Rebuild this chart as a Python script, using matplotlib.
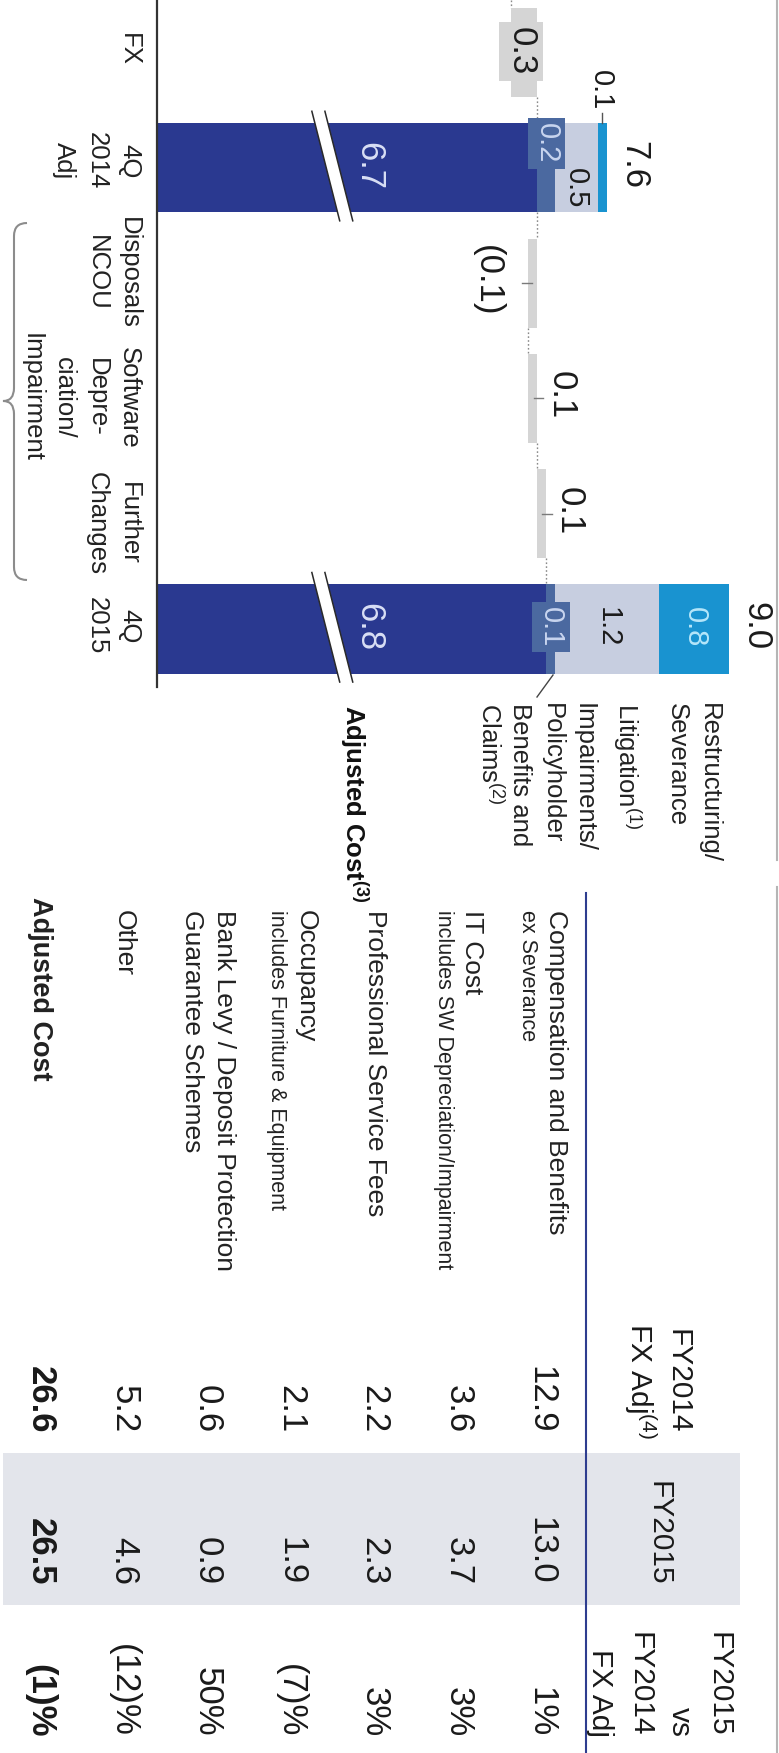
import matplotlib
matplotlib.use("Agg")
import matplotlib.pyplot as plt
import numpy as np
from matplotlib.transforms import offset_copy
from matplotlib.patches import Rectangle, Polygon, PathPatch
from matplotlib.path import Path

plt.rcParams['font.family'] = ['Liberation Sans', 'DejaVu Sans']
plt.rcParams['mathtext.fontset'] = 'custom'
plt.rcParams['mathtext.rm'] = 'Liberation Sans'
plt.rcParams['mathtext.it'] = 'Liberation Sans:italic'
plt.rcParams['mathtext.bf'] = 'Liberation Sans:bold'

# ---------------- data ----------------
categories = ["FX", "4Q\n2014\nAdj", "Disposals\nNCOU",
              "Software\nDepre-\nciation/\nImpairment", "Further\nChanges", "4Q\n2015"]
fx_change = 0.3
adj_cost_4q14 = 6.7
drivers = [-0.1, 0.1, 0.1]          # Disposals NCOU, Software, Further Changes
adj_cost_4q15 = 6.8
stack_names = ["Impairments/\nPolicyholder\nBenefits and\nClaims$^{(2)}$",
               "Litigation$^{(1)}$",
               "Restructuring/\nSeverance"]
stack_4q14 = [0.2, 0.5, 0.1]
stack_4q15 = [0.1, 1.2, 0.8]
total_labels = ["7.6", "9.0"]

row_names = ["Compensation and Benefits", "IT Cost", "Professional Service Fees",
             "Occupancy", "Bank Levy / Deposit Protection\nGuarantee Schemes",
             "Other", "Adjusted Cost"]
row_notes = ["ex Severance", "includes SW Depreciation/Impairment", "",
             "includes Furniture & Equipment", "", "", ""]
fy2014_fx_adj = [12.9, 3.6, 2.2, 2.1, 0.6, 5.2, 26.6]
fy2015 = [13.0, 3.7, 2.3, 1.9, 0.9, 4.6, 26.5]
yoy_pct = [1, 3, 3, -7, 50, -12, -1]
col_headers = ["FY2014\nFX Adj$^{(4)}$", "FY2015", "FY2015\nvs\nFY2014\nFX Adj"]

# ---------------- style ----------------
NAVY = '#2a3990'
SLATE = '#4b69a0'
LIGHT = '#c7cee0'
LBLUE = '#1993d0'
STEP = '#d5d5d5'
INK = '#1b1b1b'
STACK_COLORS = [SLATE, LIGHT, LBLUE]
CAP = 0.71

W_PX, H_PX = 779, 1753
fig = plt.figure(figsize=(W_PX / 100, H_PX / 100), dpi=100)
fig.patch.set_facecolor('white')

ov = fig.add_axes([0, 0, 1, 1])
ov.set_xlim(0, W_PX)
ov.set_ylim(H_PX, 0)
ov.axis('off')
ov.patch.set_alpha(0)

AX_L, AX_R, AX_T, AX_B = 157, 779, 0, 687
PX_PER_UNIT = 87.0
ax = fig.add_axes([AX_L / W_PX, 1 - AX_B / H_PX, (AX_R - AX_L) / W_PX, (AX_B - AX_T) / H_PX])
ax.patch.set_alpha(0)
n = len(categories)
ax.set_xlim(0, (AX_R - AX_L) / PX_PER_UNIT)
Y_TOP = -0.455
ax.set_ylim(n - 1 + 0.503, Y_TOP)
ax.set_xticks([])
ax.set_yticks([])
for s in ['top', 'right', 'bottom']:
    ax.spines[s].set_visible(False)
ax.spines['left'].set_color('#333333')
ax.spines['left'].set_linewidth(1.6)

BREAK_GAP = 2.33     # hidden part of the axis (broken bars)


def disp(v):
    return v - BREAK_GAP


def cap_px(size):
    return CAP * size * fig.dpi / 72.0


def vtext(axes, x, y, s, size, align='center', dx=0.0, dy=0.0, center=True,
          weight='normal', color=INK, **kw):
    ox = dx - (cap_px(size) / 2.0 if center else 0.0)
    tr = offset_copy(axes.transData, fig=fig, x=ox, y=-dy, units='dots')
    return axes.text(x, y, s, transform=tr, rotation=-90, rotation_mode='anchor',
                     ha=align, va='baseline', fontsize=size, fontweight=weight,
                     color=color, **kw)


def fmt(v):
    return f"{v:.1f}" if v >= 0 else f"({-v:.1f})"


W = 0.772
pos = np.arange(n)

# ---------------- waterfall bars ----------------
fx_start = adj_cost_4q14 - fx_change
ax.barh(pos[0], fx_change, left=disp(fx_start), height=W, color=STEP, zorder=2)

totals = [(1, adj_cost_4q14, stack_4q14), (5, adj_cost_4q15, stack_4q15)]
for i, base, stack in totals:
    ax.barh(pos[i], disp(base), left=0, height=W, color=NAVY, zorder=2)
    cum = base
    for v, c in zip(stack, STACK_COLORS):
        ax.barh(pos[i], v, left=disp(cum), height=W, color=c, zorder=2)
        cum += v

levels = [adj_cost_4q14, adj_cost_4q14]
lv = adj_cost_4q14
for j, v in enumerate(drivers):
    i = 2 + j
    ax.barh(pos[i], v, left=disp(lv), height=W, color=STEP, zorder=2)
    lv += v
    levels.append(lv)
levels.append(adj_cost_4q15)

# connectors (dotted)
dot = dict(color='#8a8a8a', lw=1.0, ls=(0, (1.2, 1.6)), zorder=1)
ax.plot([disp(fx_start)] * 2, [Y_TOP, pos[0] - W / 2], **dot)
for i in range(n - 1):
    ax.plot([disp(levels[i])] * 2, [pos[i] + W / 2, pos[i + 1] - W / 2], **dot)

# axis-break marks on the adjusted-cost bars
for i, base, stack in totals:
    x0, sx, dxb = 1.78, 0.32, 0.15
    y0, y1 = pos[i] - 0.49, pos[i] + 0.46
    ax.add_patch(Polygon([(x0, y0), (x0 + dxb, y0), (x0 + dxb + sx, y1), (x0 + sx, y1)],
                         closed=True, fc='white', ec='none', zorder=3))
    for off in (0, dxb):
        ax.plot([x0 + off, x0 + off + sx], [y0, y1], color='#2a2a2a', lw=1.1, zorder=4)

# ---------------- waterfall labels ----------------
BIG, SEG = 25, 21
# category labels (left of baseline)
cat_nudge = [-3, -7, -10, -1, 10, -3]
for i, lab in enumerate(categories):
    for k, line in enumerate(lab.split('\n')):
        vtext(ax, 0, pos[i], line, 18.5, align='center', dx=-35 - 32.5 * k,
              dy=cat_nudge[i], center=False, color='#222222')

# FX label in grey box
vtext(ax, disp(fx_start + fx_change / 2), pos[0], fmt(fx_change), BIG, align='center',
      dy=-1, bbox=dict(boxstyle='square,pad=0.16', fc=STEP, ec='none'), zorder=5)

# driver labels
lv = adj_cost_4q14
for j, v in enumerate(drivers):
    i = 2 + j
    new = lv + v
    if v < 0:
        vtext(ax, disp(new), pos[i], fmt(v), BIG, align='center', dx=-38.5, dy=-2)
        edge, sgn = disp(new), -1
    else:
        vtext(ax, disp(new), pos[i], fmt(v), BIG, align='center',
              dx=14 + cap_px(BIG) / 2, dy=-3)
        edge, sgn = disp(new), 1
    ax.plot([edge - sgn * 0.04, edge + sgn * 0.07], [pos[i], pos[i]],
            color='#7a7a7a', lw=1.0, zorder=3)
    lv = new

# adjusted-cost (navy) labels
for i, base, stack in totals:
    vtext(ax, 2.47, pos[i], f"{base:.1f}", BIG, align='center', dy=-2, color='#d9dff5', zorder=5)

# total labels
for (i, base, stack), lab in zip(totals, total_labels):
    vtext(ax, disp(base + sum(stack)), pos[i], lab, BIG, align='center',
          dx=30, dy=-3, zorder=5)

# stacked segment labels
seg_text_colors = ['#c8d5ef', INK, '#b5e6fa']
# 4Q 2014 (narrow segments: labels staggered)
i, base, stack = totals[0]
cum = base
for k, v in enumerate(stack):
    xc = disp(cum + v / 2)
    if k == 0:
        vtext(ax, xc, pos[i] - W / 2, f"{v:.1f}", SEG, align='left', dx=3, dy=0,
              color=seg_text_colors[0], zorder=5,
              bbox=dict(boxstyle='square,pad=0.17', fc=SLATE, ec='none'))
    elif k == 1:
        vtext(ax, xc, pos[i] + W / 2, f"{v:.1f}", SEG, align='right', dx=2, dy=-4, zorder=5)
    else:
        vtext(ax, xc, pos[i] - W / 2, f"{v:.1f}", SEG, align='right', dx=1, dy=-13, zorder=5)
        ax.plot([xc, xc], [pos[i] - W / 2 - 0.09, pos[i] - W / 2], color='#555555', lw=1.0)
    cum += v
# 4Q 2015
i, base, stack = totals[1]
cum = base
for k, v in enumerate(stack):
    xc = disp(cum + v / 2)
    kw = {}
    if k == 0:
        kw['bbox'] = dict(boxstyle='square,pad=0.17', fc=SLATE, ec='none')
    vtext(ax, xc, pos[i], f"{v:.1f}", SEG, align='center', dx=3, dy=-2,
          color=seg_text_colors[k], zorder=5, **kw)
    cum += v

# legend-like labels to the right of the 4Q 2015 bar
LEG = 18.5
legend_base = {2: [702, 670], 1: [618], 0: [577, 545, 513, 481]}
for k, name in enumerate(stack_names):
    for line, bx in zip(name.split('\n'), legend_base[k]):
        vtext(ov, bx, 703, line, LEG, align='left', center=False, color='#222222')
ov.plot([553, 537], [675, 697], color='#444444', lw=1.0)
vtext(ov, 345, 705, r"Adjusted Cost$^{\mathbf{(3)}}$", LEG, align='left', center=False,
      weight='bold', color='#111111')

# brace under the Disposals / Software / Further labels
bv = [(27, 223), (14, 223), (14, 236), (14, 388), (14, 401), (3, 401),
      (14, 401), (14, 414), (14, 567), (14, 580), (27, 580)]
bc = [Path.MOVETO, Path.CURVE3, Path.CURVE3, Path.LINETO, Path.CURVE3, Path.CURVE3,
      Path.CURVE3, Path.CURVE3, Path.LINETO, Path.CURVE3, Path.CURVE3]
ov.add_patch(PathPatch(Path(bv, bc), fc='none', ec='#8c8c8c', lw=1.5))

# page frame line on the right
ov.plot([777, 777], [0, 860], color='#b5b5b5', lw=1.5)
ov.plot([777, 777], [887, H_PX], color='#b5b5b5', lw=1.5)

# ---------------- table ----------------
ov.add_patch(Rectangle((3, 1453), 737, 152, fc='#e3e5eb', ec='none', zorder=0))
ov.plot([586, 586], [893, H_PX], color='#2e3d8f', lw=1.5, zorder=2)

ROW0, PITCH = 544.0, 83.5
COL_END = [1433, 1585, 1737]
VAL = 25
n_rows = len(row_names)
for r in range(n_rows):
    c = ROW0 - PITCH * r
    last = (r == n_rows - 1)
    wt = 'bold' if last else 'normal'
    # label lines: (text, size, pitch-from-previous)
    lines = []
    for k, t in enumerate(row_names[r].split('\n')):
        lines.append((t, 19.5 if last else 19, 0 if k == 0 else 32))
    if row_notes[r]:
        lines.append((row_notes[r], 15.5, 27))
    bases = []
    b = 0.0
    for t, sz, p in lines:
        b -= p
        bases.append(b)
    cc_first = bases[0] + cap_px(lines[0][1]) / 2
    cc_last = bases[-1] + cap_px(lines[-1][1]) / 2
    shift = c - (cc_first + cc_last) / 2
    y_start = 897 if last else 910
    for (t, sz, p), bb in zip(lines, bases):
        vtext(ov, bb + shift, y_start, t, sz, align='left', center=False, weight=wt,
              color='#222222')
    pct = f"{yoy_pct[r]}%" if yoy_pct[r] >= 0 else f"({-yoy_pct[r]})%"
    for val, ye in zip([f"{fy2014_fx_adj[r]:.1f}", f"{fy2015[r]:.1f}", pct], COL_END):
        vtext(ov, c, ye, val, VAL, align='right', weight=wt, color='#1a1a1a')

# headers
HDR = 21.5
h1 = col_headers[0].split('\n')
for line, bx in zip(h1, [670, 630]):
    vtext(ov, bx, 1381, line, HDR, align='center', center=False, color='#1a1a1a')
vtext(ov, 651, 1533, col_headers[1], HDR, align='center', center=False, color='#1a1a1a')
h3 = col_headers[2].split('\n')
for line, bx in zip(h3, [711, 672, 632, 592]):
    vtext(ov, bx, 1737, line, HDR, align='right', center=False, color='#1a1a1a')

fig.savefig("out.png", dpi=100, facecolor='white')
